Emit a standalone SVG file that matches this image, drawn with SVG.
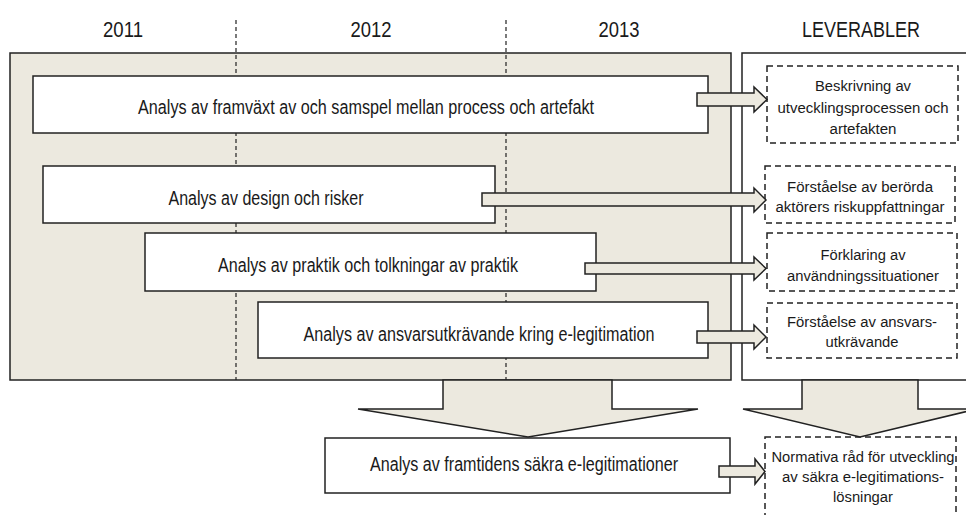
<svg xmlns="http://www.w3.org/2000/svg" width="966" height="515" viewBox="0 0 966 515">
<style>
text{font-family:'Liberation Sans Narrow','Arial Narrow','Liberation Sans',Arial,sans-serif;fill:#1a1a1a;text-anchor:middle}
.hdr{font-size:22px}
.bt{font-size:19.5px}
.dt{font-size:15.4px}
.panel{fill:#ECE9DF;stroke:#222;stroke-width:1.5}
.wpanel{fill:#fff;stroke:#222;stroke-width:1.5}
.box{fill:#fff;stroke:#222;stroke-width:1.5}
.dbox{fill:#fff;stroke:#222;stroke-width:1.5;stroke-dasharray:6 4}
.vline{stroke:#222;stroke-width:1.2;stroke-dasharray:4 3;fill:none}
.arr{fill:#ECE9DF;stroke:#222;stroke-width:1.5;stroke-linejoin:miter}
</style>
<rect width="966" height="515" fill="#fff"/>
<g id="headers">
<text class="hdr" x="123" y="37" textLength="40" lengthAdjust="spacingAndGlyphs">2011</text>
<text class="hdr" x="371" y="37" textLength="41" lengthAdjust="spacingAndGlyphs">2012</text>
<text class="hdr" x="619" y="37" textLength="41" lengthAdjust="spacingAndGlyphs">2013</text>
<text class="hdr" x="861" y="37" textLength="118" lengthAdjust="spacingAndGlyphs">LEVERABLER</text>
</g>
<g id="timeline-panel">
<rect class="panel" x="10" y="53" width="721" height="327"/>
</g>
<g id="deliverables-panel">
<rect class="wpanel" x="742" y="53" width="240" height="327"/>
</g>
<g id="year-dividers">
<line class="vline" x1="236" y1="20" x2="236" y2="380"/>
<line class="vline" x1="506" y1="20" x2="506" y2="380"/>
</g>
<g id="activity1">
<rect class="box" x="33" y="76" width="675" height="57"/>
<text class="bt" x="366" y="114" textLength="456" lengthAdjust="spacingAndGlyphs">Analys av framväxt av och samspel mellan process och artefakt</text>
</g>
<g id="activity2">
<rect class="box" x="43" y="166" width="452" height="57"/>
<text class="bt" x="266" y="205" textLength="195" lengthAdjust="spacingAndGlyphs">Analys av design och risker</text>
</g>
<g id="activity3">
<rect class="box" x="145" y="233" width="451" height="58"/>
<text class="bt" x="368" y="272" textLength="300" lengthAdjust="spacingAndGlyphs">Analys av praktik och tolkningar av praktik</text>
</g>
<g id="activity4">
<rect class="box" x="258" y="302" width="450" height="56"/>
<text class="bt" x="479" y="341" textLength="351" lengthAdjust="spacingAndGlyphs">Analys av ansvarsutkrävande kring e-legitimation</text>
</g>
<g id="activity5">
<rect class="box" x="325" y="438" width="405" height="55"/>
<text class="bt" x="524" y="471" textLength="308" lengthAdjust="spacingAndGlyphs">Analys av framtidens säkra e-legitimationer</text>
</g>
<g id="deliverable1">
<rect class="dbox" x="767" y="66" width="191" height="77"/>
<text class="dt" x="863" y="91" textLength="96" lengthAdjust="spacingAndGlyphs">Beskrivning av</text>
<text class="dt" x="863" y="112.5" textLength="171" lengthAdjust="spacingAndGlyphs">utvecklingsprocessen och</text>
<text class="dt" x="863" y="134" textLength="67" lengthAdjust="spacingAndGlyphs">artefakten</text>
</g>
<g id="deliverable2">
<rect class="dbox" x="765" y="166" width="190" height="57"/>
<text class="dt" x="860" y="192" textLength="146" lengthAdjust="spacingAndGlyphs">Förståelse av berörda</text>
<text class="dt" x="860" y="212" textLength="169" lengthAdjust="spacingAndGlyphs">aktörers riskuppfattningar</text>
</g>
<g id="deliverable3">
<rect class="dbox" x="767" y="233" width="190" height="58"/>
<text class="dt" x="863" y="260" textLength="85" lengthAdjust="spacingAndGlyphs">Förklaring av</text>
<text class="dt" x="863" y="281" textLength="152" lengthAdjust="spacingAndGlyphs">användningssituationer</text>
</g>
<g id="deliverable4">
<rect class="dbox" x="767" y="303" width="190" height="55"/>
<text class="dt" x="862" y="327" textLength="150" lengthAdjust="spacingAndGlyphs">Förståelse av ansvars-</text>
<text class="dt" x="862" y="346.5" textLength="73" lengthAdjust="spacingAndGlyphs">utkrävande</text>
</g>
<g id="deliverable5">
<rect class="dbox" x="765" y="437" width="191" height="90"/>
<text class="dt" x="863" y="462" textLength="183" lengthAdjust="spacingAndGlyphs">Normativa råd för utveckling</text>
<text class="dt" x="863" y="482" textLength="162" lengthAdjust="spacingAndGlyphs">av säkra e-legitimations-</text>
<text class="dt" x="863" y="502" textLength="60" lengthAdjust="spacingAndGlyphs">lösningar</text>
</g>
<g id="connectors">
<polygon class="arr" points="697,93 754,93 754,87 767,99.5 754,112 754,106 697,106"/>
<polygon class="arr" points="482,193 754,193 754,188 766,200 754,212 754,206 482,206"/>
<polygon class="arr" points="585,263 754,263 754,257 766,268.5 754,280 754,274 585,274"/>
<polygon class="arr" points="697,331 754,331 754,325 766,337 754,349 754,343 697,343"/>
<polygon class="arr" points="719,466 755,466 755,459 765,471.5 755,484 755,477 719,477"/>
<polygon class="arr" points="443,380 443,409 358,409 528,437 698,409 612,409 612,380"/>
<polygon class="arr" points="802,380 802,409 743,409 860,437 977,409 918,409 918,380"/>
</g>
</svg>
